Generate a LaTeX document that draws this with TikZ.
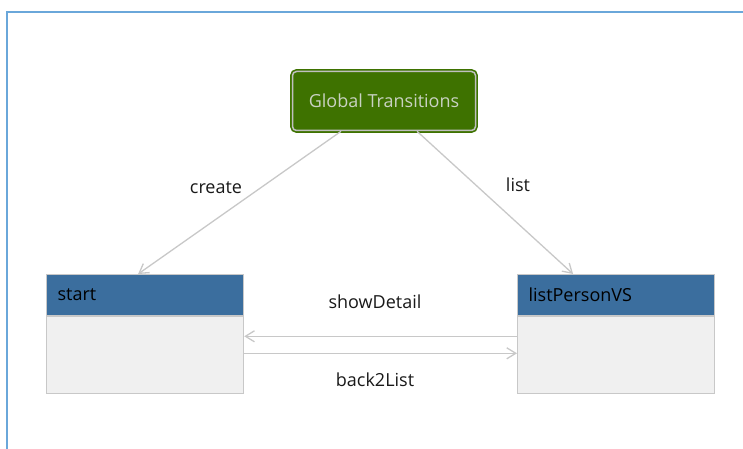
\documentclass[tikz,border=0pt]{standalone}
\usepackage{fontspec}
\setmainfont{Open Sans}
\usetikzlibrary{arrows.meta}

\definecolor{frameblue}{HTML}{6AA7DA}
\definecolor{gtgreen}{HTML}{3E7200}
\definecolor{gttext}{HTML}{C9D2C2}
\definecolor{hdrblue}{HTML}{3B6E9E}
\definecolor{bodygray}{HTML}{F0F0F0}
\definecolor{linegray}{HTML}{C8C8C8}

\tikzset{
  header/.style={draw=linegray, fill=hdrblue, line width=1.2pt, anchor=north west,
    minimum width=197pt, minimum height=41pt, text width=175pt, align=left,
    inner xsep=11pt, font=\fontsize{18}{20}\selectfont},
  body/.style={draw=linegray, fill=bodygray, line width=1.2pt, anchor=north,
    minimum width=197pt, minimum height=77pt},
  trans/.style={draw=linegray, line width=1.3pt, -{Straight Barb[length=9pt,width=11pt]}},
  lbl/.style={font=\fontsize{18}{20}\selectfont, text=black!90}
}

\begin{document}
\begin{tikzpicture}[x=1pt,y=-1pt]
\useasboundingbox (0,0) rectangle (743,449);

% frame
\draw[frameblue, line width=1.5pt] (7,449) -- (7,12) -- (743,12);

% global transitions
\node[draw=gtgreen, double=gray!50, double distance=1.5pt, line width=1.6pt,
  fill=gtgreen, rounded corners=4pt, minimum width=183pt, minimum height=59pt,
  text=gttext, font=\fontsize{18}{20}\selectfont] (gt) at (384,101) {Global Transitions};

% states
\node[header] (startHead) at (46,274) {start};
\node[body] (startBody) at (startHead.south) {};
\node[header] (listHead) at (517,274) {listPersonVS};
\node[body] (listBody) at (listHead.south) {};

% transitions
\draw[trans] (gt) -- ([xshift=-7pt]startHead.north);
\draw[trans] (gt) -- ([xshift=-43pt]listHead.north);
\draw[trans] ([yshift=19pt]listBody.west) -- ([yshift=19pt]startBody.east);
\draw[trans] ([yshift=2pt]startBody.east) -- ([yshift=2pt]listBody.west);

% labels
\node[lbl] (createLbl) at (216,188) {create};
\node[lbl] (listLbl) at (518,185) {list};
\node[lbl] (showLbl) at (375,302) {showDetail};
\node[lbl] (backLbl) at (375,380) {back2List};
\end{tikzpicture}
\end{document}
